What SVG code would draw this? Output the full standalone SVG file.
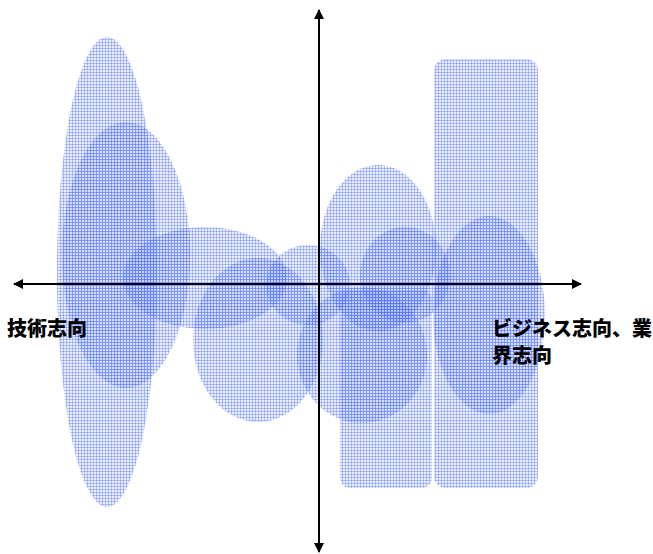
<svg xmlns="http://www.w3.org/2000/svg" width="653" height="554" viewBox="0 0 653 554">
<style>
.s{fill:url(#g);}
.ax{stroke:#000;stroke-width:2;fill:none;}
.lbl{font-family:"Noto Sans CJK JP","Noto Sans CJK SC",sans-serif;font-weight:900;font-size:20px;fill:#000;}
</style>
<defs>
<pattern id="g" width="3" height="3" patternUnits="userSpaceOnUse">
<rect width="3" height="3" fill="#4a70f8" fill-opacity="0.12"/>
<rect width="3" height="1" fill="#4a70f8" fill-opacity="0.36"/>
<rect width="1" height="3" fill="#4a70f8" fill-opacity="0.36"/>
</pattern>
<marker id="ah" viewBox="0 0 10 10" refX="9" refY="5" markerWidth="5" markerHeight="5" orient="auto" markerUnits="strokeWidth">
<path d="M0,0 L10,5 L0,10 z" fill="#000"/>
</marker>
</defs>
<g id="shapes">
<g id="n1"><ellipse class="s" cx="107" cy="272" rx="50" ry="235"/></g>
<g id="n2"><ellipse class="s" cx="126" cy="255" rx="64" ry="133"/></g>
<g id="n3"><ellipse class="s" cx="205" cy="278" rx="82" ry="51"/></g>
<g id="n4"><ellipse class="s" cx="258" cy="340" rx="65" ry="82"/></g>
<g id="n5"><ellipse class="s" cx="308" cy="285" rx="42" ry="40"/></g>
<g id="n6"><ellipse class="s" cx="378" cy="248" rx="58" ry="83"/></g>
<g id="n7"><ellipse class="s" cx="362" cy="355" rx="65" ry="68"/></g>
<g id="n8"><rect class="s" x="340" y="290" width="92" height="198" rx="10"/></g>
<g id="n9"><rect class="s" x="434" y="59" width="104" height="429" rx="12"/></g>
<g id="n10"><ellipse class="s" cx="405" cy="275" rx="45" ry="48"/></g>
<g id="n11"><ellipse class="s" cx="489" cy="315" rx="56" ry="99"/></g>
</g>
<g id="connectors">
<line class="ax" x1="318" y1="284" x2="581" y2="284" marker-end="url(#ah)"/>
<line class="ax" x1="318" y1="284" x2="14" y2="284" marker-end="url(#ah)"/>
<line class="ax" x1="319" y1="284" x2="319" y2="10" marker-end="url(#ah)"/>
<line class="ax" x1="319" y1="284" x2="319" y2="552" marker-end="url(#ah)"/>
</g>
<g id="labels">
<text class="lbl" x="7" y="336">技術志向</text>
<text class="lbl" x="492" y="336">ビジネス志向、業</text>
<text class="lbl" x="492" y="363">界志向</text>
</g>
</svg>
